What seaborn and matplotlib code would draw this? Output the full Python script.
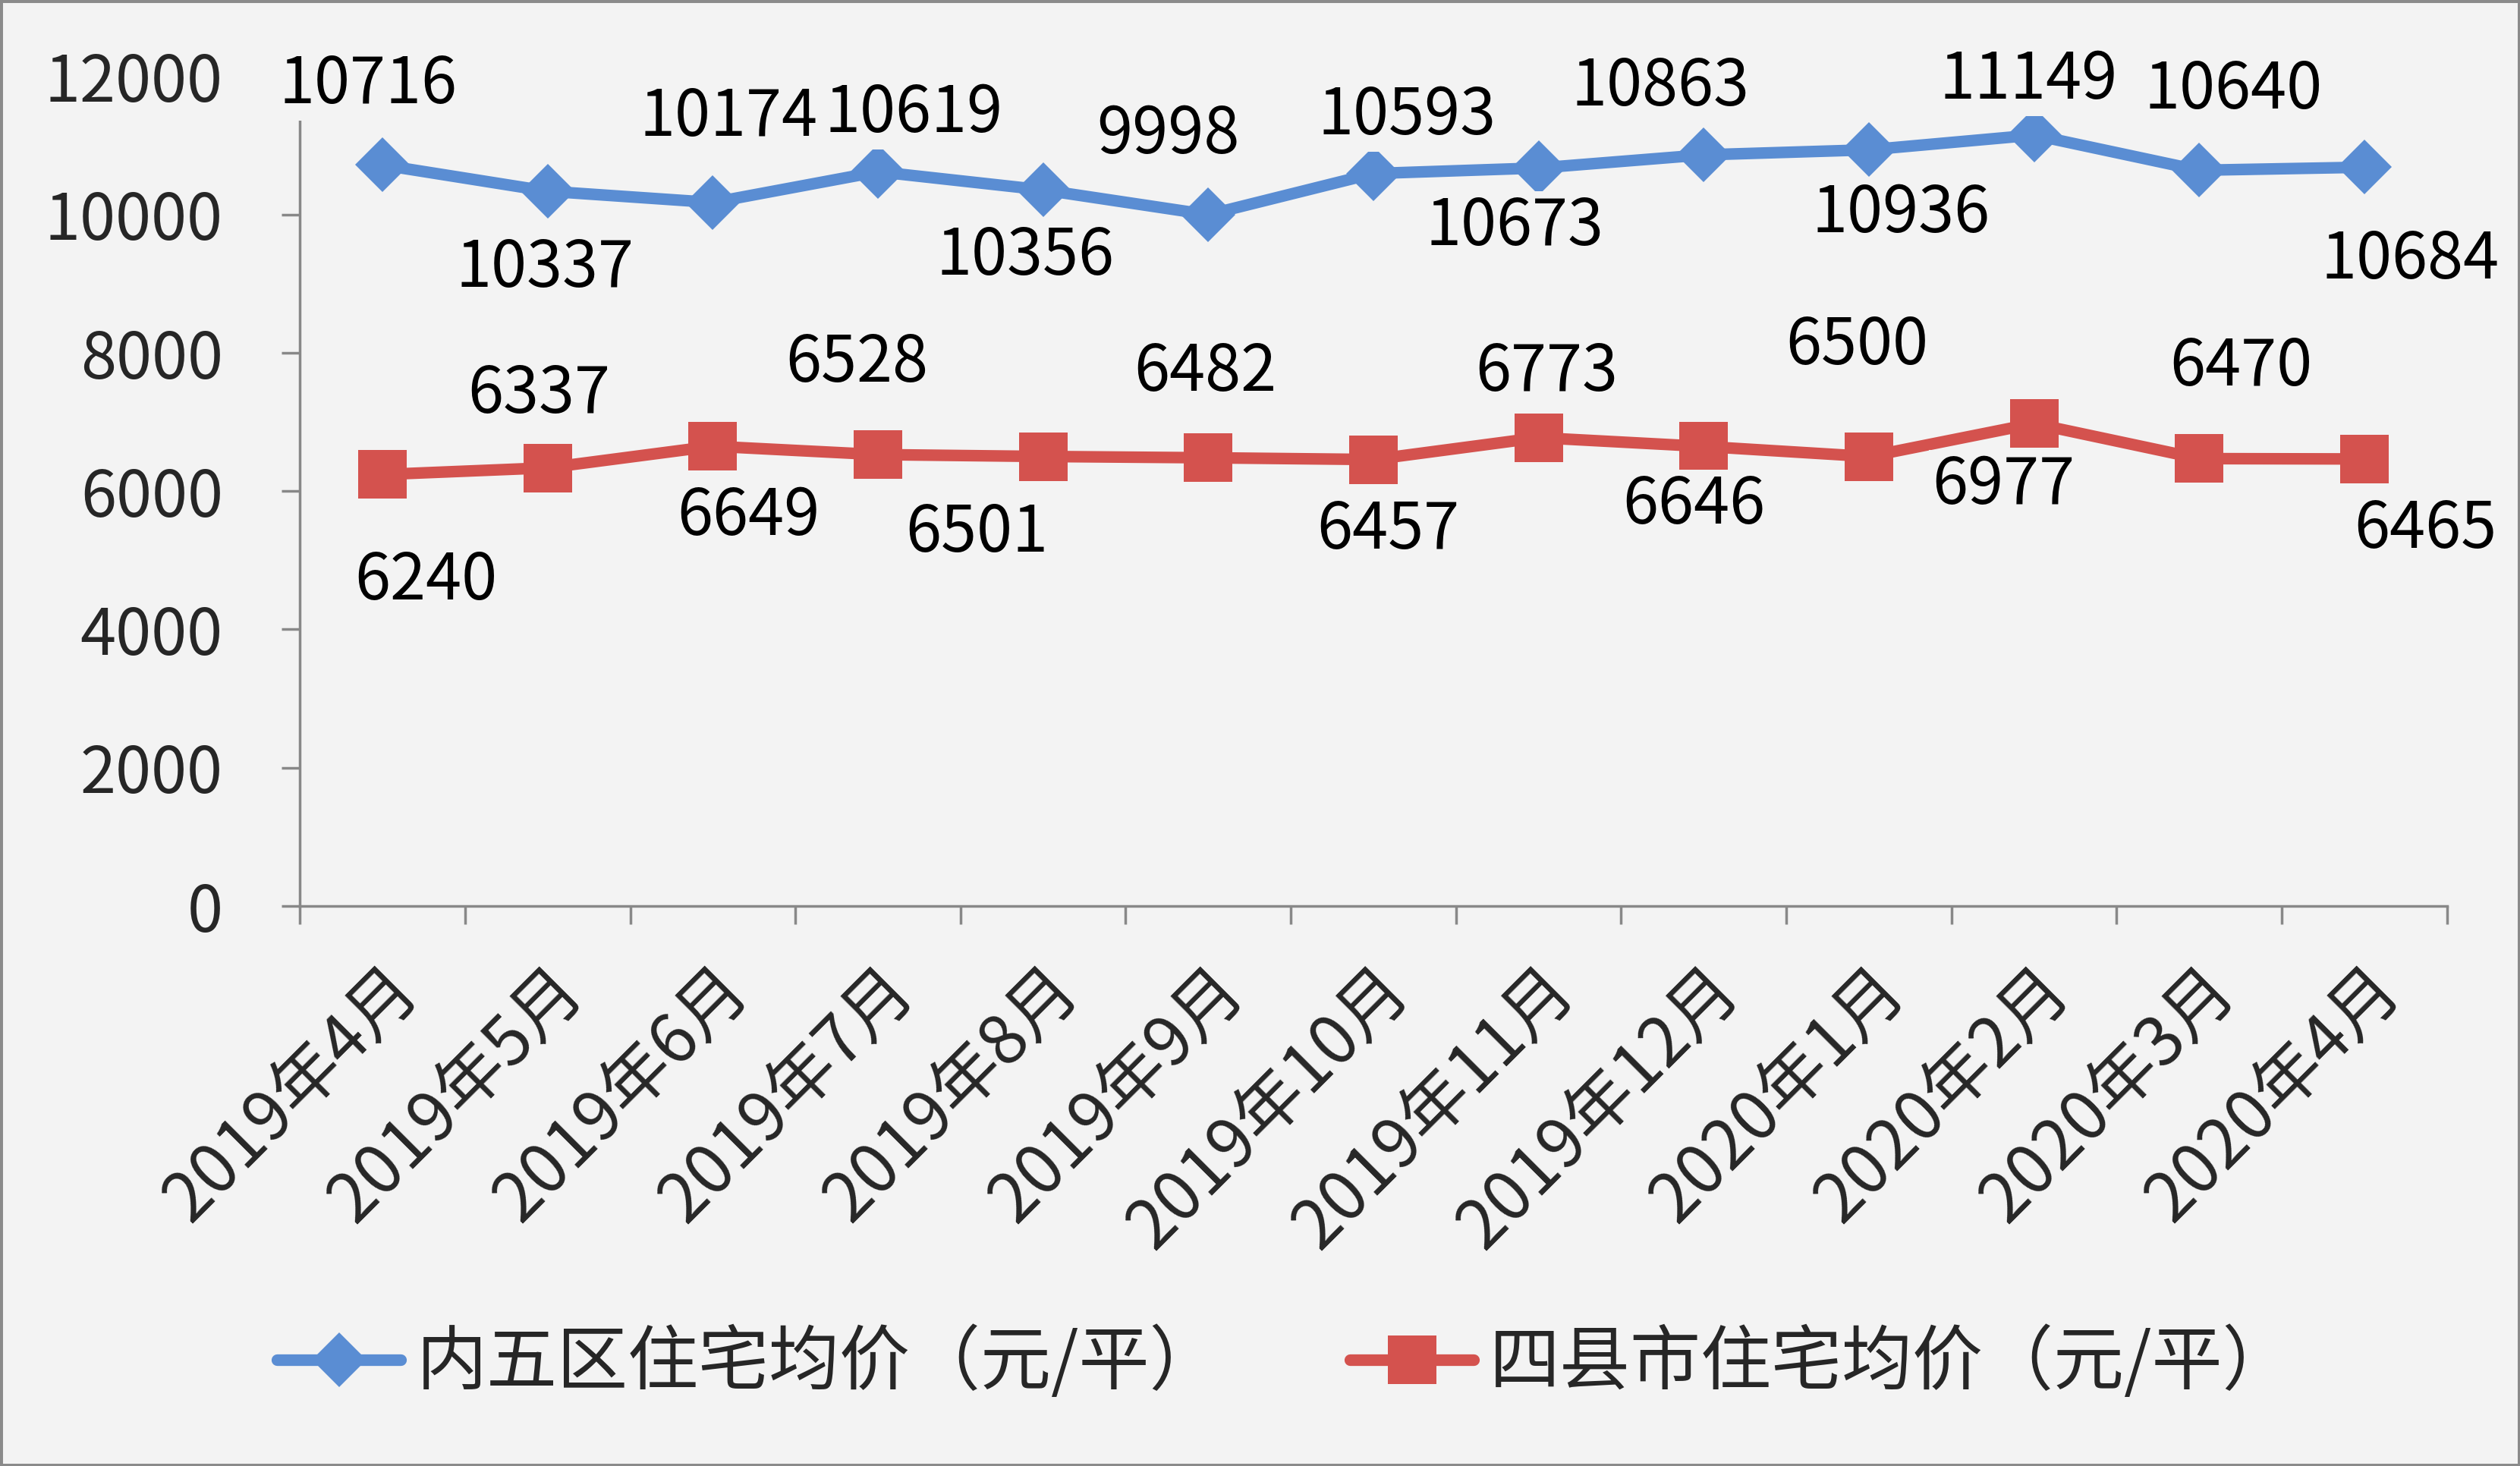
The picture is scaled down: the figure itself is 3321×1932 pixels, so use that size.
import matplotlib
matplotlib.use("Agg")
import matplotlib.pyplot as plt
import matplotlib.patches as mpatches
from matplotlib.ticker import FixedLocator
import numpy as np
import pandas as pd
import seaborn as sns

months = ["2019年4月", "2019年5月", "2019年6月", "2019年7月", "2019年8月", "2019年9月",
          "2019年10月", "2019年11月", "2019年12月", "2020年1月", "2020年2月", "2020年3月",
          "2020年4月"]
inner5 = [10716, 10337, 10174, 10619, 10356, 9998, 10593, 10673, 10863, 10936, 11149, 10640, 10684]
county4 = [6240, 6337, 6649, 6528, 6501, 6482, 6457, 6773, 6646, 6500, 6977, 6470, 6465]
series_names = ["内五区住宅均价（元/平）", "四县市住宅均价（元/平）"]

# label offsets (points) as placed by hand in the original
inner5_offsets = [(-14, 76), (-3, -73), (15, 81), (34, 55), (-17, -63), (-38, 76), (32, 55),
                  (-23, -56), (-41, 64), (30, -61), (-5, 52), (32, 76), (43, -88)]
county4_offsets = [(41, -101), (-8, 70), (34, -67), (-20, 87), (-63, -73), (-3, 81), (14, -67),
                   (8, 62), (-9, -56), (-11, 105), (-29, -59), (40, 87), (58, -67)]

sns.set_theme(style="white")
plt.rcParams["font.family"] = ["Noto Sans CJK SC", "DejaVu Sans"]

BG = "#F3F3F3"
BLUE = "#5A8DD3"
RED = "#D4524E"
FS = 61

fig = plt.figure(figsize=(33.21, 19.32), dpi=100, facecolor=BG)
ax = fig.add_axes([0.119, 0.382, 0.852, 0.566])
ax.set_facecolor(BG)

x = np.arange(len(months))
df = pd.concat([
    pd.DataFrame({"x": x, "price": inner5, "series": series_names[0]}),
    pd.DataFrame({"x": x, "price": county4, "series": series_names[1]}),
])

sns.lineplot(data=df[df.series == series_names[0]], x="x", y="price", ax=ax,
             color=BLUE, lw=11, marker="D", markersize=37, markeredgewidth=0,
             label=series_names[0], legend=False)
sns.lineplot(data=df[df.series == series_names[1]], x="x", y="price", ax=ax,
             color=RED, lw=11, marker="s", markersize=46, markeredgewidth=0,
             label=series_names[1], legend=False)

for vals, offs in ((inner5, inner5_offsets), (county4, county4_offsets)):
    for xi, v, (dx, dy) in zip(x, vals, offs):
        ax.annotate(str(v), (xi, v), xytext=(dx, dy), textcoords="offset points",
                    ha="center", va="center", fontsize=FS, color="black",
                    bbox=dict(boxstyle="square,pad=0.05", fc=BG, ec="none"), zorder=5)

ax.set_xlim(-0.5, len(months) - 0.5)
ax.set_ylim(0, 12000)
ax.set_yticks(range(0, 12001, 2000))
ax.set_yticklabels([str(v) for v in range(0, 12001, 2000)], fontsize=FS)
ax.set_xticks(x)
ax.set_xticklabels(months, fontsize=65, rotation=45, ha="right", rotation_mode="anchor")
ax.xaxis.set_minor_locator(FixedLocator(np.arange(-0.5, len(months), 1.0)))
ax.tick_params(axis="x", which="major", length=0, pad=46)
ax.tick_params(axis="x", which="minor", length=17, width=2.5, color="#888888", bottom=True)
ax.tick_params(axis="y", length=17, width=2.5, color="#888888", pad=56, left=True)
ax.set_xlabel("")
ax.set_ylabel("")

for side in ("top", "right"):
    ax.spines[side].set_visible(False)
for side in ("left", "bottom"):
    ax.spines[side].set_color("#888888")
    ax.spines[side].set_linewidth(2.5)

handles, labels = ax.get_legend_handles_labels()
fig.legend(handles, labels, loc="center", bbox_to_anchor=(0.51, 0.07), ncol=2,
           frameon=False, fontsize=67, handlelength=1.75, handletextpad=0.22,
           columnspacing=1.84)

fig.patches.append(mpatches.Rectangle((0, 0), 1, 1, transform=fig.transFigure,
                                      fill=False, ec="#8A8A8A", lw=5))

fig.savefig("out.png", dpi=100, facecolor=BG)
